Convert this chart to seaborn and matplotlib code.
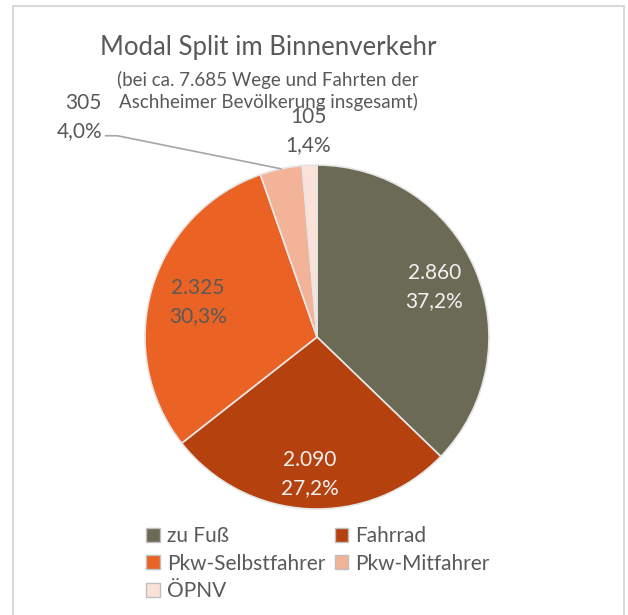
import numpy as np
import matplotlib
matplotlib.use("Agg")
import matplotlib.pyplot as plt
import seaborn as sns
from matplotlib.patches import Patch
from matplotlib.lines import Line2D

# ── Data ──────────────────────────────────────────────────────────────
modes = ["zu Fuß", "Fahrrad", "Pkw-Selbstfahrer", "Pkw-Mitfahrer", "ÖPNV"]
trips = [2860, 2090, 2325, 305, 105]
shares = ["37,2%", "27,2%", "30,3%", "4,0%", "1,4%"]
counts = ["2.860", "2.090", "2.325", "305", "105"]
colors = ["#6b6a55", "#b4410e", "#ea6324", "#f3b398", "#fbe2d8"]

title = "Modal Split im Binnenverkehr"
subtitle = "(bei ca. 7.685 Wege und Fahrten der\nAschheimer Bevölkerung insgesamt)"

# ── Style ─────────────────────────────────────────────────────────────
sns.set_theme(style="white")
plt.rcParams["font.family"] = ["Lato", "DejaVu Sans"]
palette = sns.color_palette(colors)
grey = "#595959"

fig = plt.figure(figsize=(6.28, 6.15), dpi=100)

# frame around chart area
fig.add_artist(Line2D([13 / 628, 13 / 628], [0, 1 - 6 / 615], color="#d9d9d9", lw=1.5))
fig.add_artist(Line2D([13 / 628, 624 / 628], [1 - 6 / 615, 1 - 6 / 615], color="#d9d9d9", lw=1.5))
fig.add_artist(Line2D([624 / 628, 624 / 628], [0, 1 - 6 / 615], color="#d9d9d9", lw=1.5))

# ── Pie ───────────────────────────────────────────────────────────────
cx, cy, r = 317, 337, 172
ax = fig.add_axes([(cx - r) / 628, (615 - cy - r) / 615, 2 * r / 628, 2 * r / 615])
wedges, _ = ax.pie(trips, colors=palette, startangle=90, counterclock=False,
                   wedgeprops=dict(edgecolor="#e6e6e6", linewidth=1.2))
ax.set_xlim(-1, 1)
ax.set_ylim(-1, 1)
ax.set_aspect("auto")
ax.axis("off")

label_dist = [0.74, 0.80, 0.72, None, 1.20]
label_color = ["#f2f2f2", "#f2f2f2", grey, grey, grey]
for i, w in enumerate(wedges):
    mid = np.deg2rad((w.theta1 + w.theta2) / 2)
    if label_dist[i] is None:
        continue
    d = label_dist[i]
    ax.text(d * np.cos(mid), d * np.sin(mid), f"{counts[i]}\n{shares[i]}",
            ha="center", va="center", fontsize=15, color=label_color[i],
            linespacing=1.5, clip_on=False)

# outside label with leader line for Pkw-Mitfahrer
w = wedges[3]
mid = np.deg2rad((w.theta1 + w.theta2) / 2)
ex, ey = np.cos(mid), np.sin(mid)
lx, ly = -1.23, 1.17
ax.plot([ex, lx + 0.07, lx], [ey, ly, ly], color="#a6a6a6", lw=1.2, clip_on=False)
ax.text(lx - 0.02, ly - 0.03, f"{counts[3]}\n{shares[3]}", ha="right", va="bottom",
        fontsize=15, color=grey, linespacing=1.5, clip_on=False)

# ── Titles ────────────────────────────────────────────────────────────
fig.text(268 / 628, 1 - 47 / 615, title, ha="center", va="center", fontsize=18.5, color=grey)
fig.text(268 / 628, 1 - 91 / 615, subtitle, ha="center", va="center", fontsize=13.5,
         color=grey, linespacing=1.3)

# ── Legend (row-major order for two columns) ──────────────────────────
order = [0, 2, 4, 1, 3]
handles = [Patch(facecolor=palette[i], edgecolor="#bfbfbf", linewidth=1) for i in order]
labels = [modes[i] for i in order]
fig.legend(handles, labels, loc="upper left", bbox_to_anchor=(146 / 628, 1 - 526 / 615),
           ncol=2, frameon=False, fontsize=15, handlelength=0.65, handleheight=0.65,
           handletextpad=0.35, columnspacing=0.45, labelspacing=0.36, labelcolor=grey,
           borderaxespad=0, borderpad=0)

fig.savefig("out.png", dpi=100)
